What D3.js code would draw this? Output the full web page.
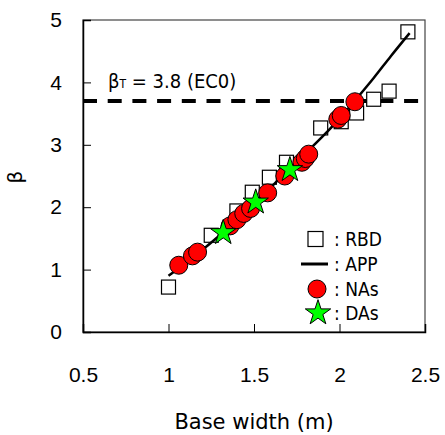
<html>
<head>
<script src="https://d3js.org/d3.v7.min.js"></script>
<style>
  body { margin: 0; background: #fff; }
  .lbl { font-family: "DejaVu Sans", sans-serif; fill: #000; }
  .lblc { font-family: "DejaVu Sans Condensed", "DejaVu Sans", sans-serif; fill: #000; }
</style>
</head>
<body>
<svg id="chart" width="445" height="435"></svg>
<script>
// RBD points (base width, beta)
const rbd = [[1.0,0.72],[1.25,1.55],[1.40,1.94],[1.49,2.24],[1.59,2.48],[1.69,2.72],
             [1.89,3.27],[2.01,3.37],[2.10,3.51],[2.20,3.73],[2.29,3.86],[2.40,4.81]];
// APP curve
const app = [[1.0,0.9],[1.1,1.1],[1.2,1.32],[1.3,1.55],[1.4,1.8],[1.5,2.05],[1.6,2.32],
             [1.7,2.6],[1.8,2.86],[1.9,3.13],[2.0,3.42],[2.1,3.74],[2.2,4.07],[2.3,4.42],[2.41,4.79]];
// NAs
const nas = [[1.06,1.07],[1.14,1.22],[1.17,1.28],[1.36,1.70],[1.40,1.80],[1.44,1.90],[1.48,1.98],
             [1.58,2.23],[1.68,2.50],[1.78,2.72],[1.80,2.78],[1.82,2.85],[1.99,3.41],[2.01,3.47],[2.09,3.69]];
// DAs
const das = [[1.32,1.59],[1.51,2.08],[1.71,2.60]];
const betaT = 3.7;
const xTicks = [0.5, 1, 1.5, 2, 2.5];
const yTicks = [0, 1, 2, 3, 4, 5];
const legendItems = ["RBD", "APP", "NAs", "DAs"];

const svg = d3.select("#chart");
const pL = 83, pR = 425, pT = 20, pB = 332;

const x = d3.scaleLinear().domain([0.5, 2.5]).range([pL, pR]);
const y = d3.scaleLinear().domain([0, 5]).range([pB, pT]);

// frame
svg.append("rect").attr("x", pL).attr("y", pT)
   .attr("width", pR - pL).attr("height", pB - pT)
   .attr("fill", "none").attr("stroke", "#444").attr("stroke-width", 1.2);

// axes with inward ticks
const xAxis = svg.append("g").attr("transform", `translate(0,${pB})`)
   .call(d3.axisBottom(x).tickValues(xTicks).tickSize(-8).tickPadding(35).tickFormat(d3.format("")));
const yAxis = svg.append("g").attr("transform", `translate(${pL},0)`)
   .call(d3.axisLeft(y).tickValues(yTicks).tickSize(-8).tickPadding(21).tickFormat(d3.format("d")));
[xAxis, yAxis].forEach(a => {
  a.select(".domain").attr("stroke", "#000").attr("stroke-width", 1.5);
  a.selectAll(".tick line").attr("stroke", "#000").attr("stroke-width", 1);
  a.selectAll(".tick text").attr("font-family", "'Liberation Sans', Arial, sans-serif")
   .attr("font-size", 21).attr("fill", "#000");
});
xAxis.selectAll(".tick line").filter(d => d === 0.5 || d === 2.5).remove();
yAxis.selectAll(".tick line").filter(d => d === 0 || d === 5).remove();

// beta_T dashed line
svg.append("line").attr("x1", pL).attr("x2", pR)
   .attr("y1", y(betaT)).attr("y2", y(betaT))
   .attr("stroke", "#000").attr("stroke-width", 4).attr("stroke-dasharray", "14,10.7");

const bt = svg.append("text").attr("class", "lblc").attr("x", 108).attr("y", 88).attr("font-size", 20);
bt.append("tspan").text("β");
bt.append("tspan").attr("font-size", 12).text("T");
bt.append("tspan").text(" = 3.8 (EC0)");

// RBD squares
const sq = 14;
svg.append("g").selectAll("rect").data(rbd).join("rect")
   .attr("x", d => x(d[0]) - sq / 2).attr("y", d => y(d[1]) - sq / 2)
   .attr("width", sq).attr("height", sq)
   .attr("fill", "#fff").attr("stroke", "#000").attr("stroke-width", 1.2);

// APP line
const line = d3.line().x(d => x(d[0])).y(d => y(d[1])).curve(d3.curveMonotoneX);
svg.append("path").datum(app).attr("d", line)
   .attr("fill", "none").attr("stroke", "#000").attr("stroke-width", 2.5);

// NAs circles
svg.append("g").selectAll("circle").data(nas).join("circle")
   .attr("cx", d => x(d[0])).attr("cy", d => y(d[1])).attr("r", 9)
   .attr("fill", "#f00").attr("stroke", "#000").attr("stroke-width", 1);

// DAs stars
const star = d3.symbol().type(d3.symbolStar).size(200);
svg.append("g").selectAll("path").data(das).join("path")
   .attr("d", star)
   .attr("transform", d => `translate(${x(d[0])},${y(d[1])})`)
   .attr("fill", "#00ff00").attr("stroke", "#000").attr("stroke-width", 1);

// legend
const lg = svg.append("g");
const ly = [239, 264, 289, 313];
lg.append("rect").attr("x", 308).attr("y", ly[0] - 7.5).attr("width", 15).attr("height", 15)
  .attr("fill", "#fff").attr("stroke", "#000").attr("stroke-width", 1.2);
lg.append("line").attr("x1", 301).attr("x2", 328).attr("y1", ly[1]).attr("y2", ly[1])
  .attr("stroke", "#000").attr("stroke-width", 3);
lg.append("circle").attr("cx", 317).attr("cy", ly[2]).attr("r", 9)
  .attr("fill", "#f00").attr("stroke", "#000");
lg.append("path").attr("d", star).attr("transform", `translate(318,${ly[3]})`)
  .attr("fill", "#00ff00").attr("stroke", "#000");
lg.selectAll("text").data(legendItems).join("text").attr("class", "lblc")
  .attr("x", 334).attr("y", (d, i) => ly[i]).attr("dy", "0.36em").attr("font-size", 19)
  .text(d => ": " + d);

// axis titles
svg.append("text").attr("class", "lbl").attr("x", (pL + pR) / 2).attr("y", 429)
   .attr("text-anchor", "middle").attr("font-size", 21).text("Base width (m)");
svg.append("text").attr("class", "lbl").attr("transform", "translate(22,177) rotate(-90)")
   .attr("text-anchor", "middle").attr("font-size", 20).text("β");
</script>
</body>
</html>
